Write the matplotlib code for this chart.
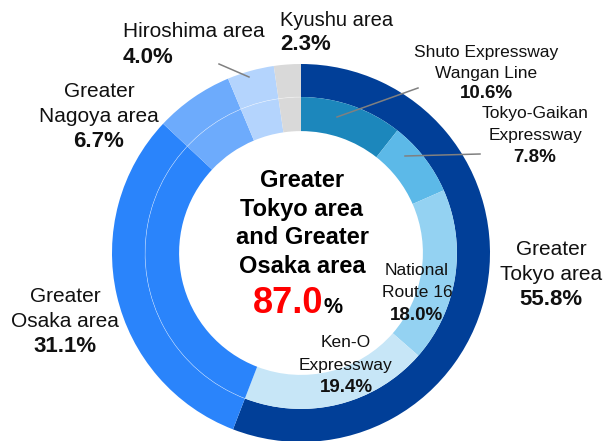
import numpy as np
import matplotlib
matplotlib.use('Agg')
import matplotlib.pyplot as plt
from matplotlib.patches import Arc

plt.rcParams['font.family'] = ['Liberation Sans', 'DejaVu Sans']

# data
area_names = ['Greater\nTokyo area', 'Greater\nOsaka area', 'Greater\nNagoya area', 'Hiroshima area', 'Kyushu area']
area_shares = [55.8, 31.1, 6.7, 4.0, 2.3]
area_colors = ['#013f98', '#2a84fb', '#6dabfc', '#b4d4fd', '#d9d9d9']

route_names = ['Shuto Expressway\nWangan Line', 'Tokyo-Gaikan\nExpressway', 'National\nRoute 16', 'Ken-O\nExpressway']
route_shares = [10.6, 7.8, 18.0, 19.4]
route_colors = ['#1c87bc', '#5cb9e8', '#94d2f2', '#c7e6f7']

center_title = 'Greater\nTokyo area\nand Greater\nOsaka area'
center_share = '87.0'

W, H = 606, 441
fig = plt.figure(figsize=(W / 100, H / 100), dpi=100)
ax = fig.add_axes([0, 0, 1, 1])

# ring geometry in pixels
cx, cy, R = 301, 253, 189

inner_vals = route_shares + area_shares[1:]
inner_cols = route_colors + area_colors[1:]

ax.pie(area_shares, colors=area_colors, radius=1.0, startangle=90, counterclock=False,
       wedgeprops=dict(width=0.175, linewidth=0))
ax.pie(inner_vals, colors=inner_cols, radius=0.825, startangle=90, counterclock=False,
       wedgeprops=dict(width=0.18, linewidth=0))

# faint white line between the rings outside the Tokyo part
tokyo_frac = sum(route_shares) / sum(area_shares)
ax.add_patch(Arc((0, 0), 2 * 0.825, 2 * 0.825, theta1=90, theta2=90 + 360 * (1 - tokyo_frac),
                 color='white', lw=0.4, alpha=0.6))

ax.set_xlim(-cx / R, (W - cx) / R)
ax.set_ylim(-(H - cy) / R, cy / R)
ax.set_aspect('auto')
ax.axis('off')


def px(x, y):
    return x / W, 1 - y / H


def label(x, baselines, name, pct, fs_name, fs_pct, ha='center'):
    lines = name.split('\n')
    for yb, line in zip(baselines[:-1], lines):
        fig.text(*px(x, yb), line, fontsize=fs_name, ha=ha, va='baseline', color='#111111')
    fig.text(*px(x, baselines[-1]), pct, fontsize=fs_pct, ha=ha, va='baseline',
             fontweight='bold', color='#111111')


# outer labels
label(551, [255, 280, 305], area_names[0], f'{area_shares[0]:.1f}%', 15, 16)
label(65, [302, 327, 352], area_names[1], f'{area_shares[1]:.1f}%', 15, 16)
label(99, [97, 122, 147], area_names[2], f'{area_shares[2]:.1f}%', 15, 16)
label(123, [37, 63], area_names[3], f'{area_shares[3]:.1f}%', 15, 16, ha='left')
label(280, [26, 50], area_names[4], f'{area_shares[4]:.1f}%', 14.5, 16, ha='left')

# route labels
label(486, [57, 78, 98], route_names[0], f'{route_shares[0]:.1f}%', 12.5, 13.5)
label(535, [118, 140, 162], route_names[1], f'{route_shares[1]:.1f}%', 12.5, 13.5)
label(417, [275, 297, 320], route_names[2], f'{route_shares[2]:.1f}%', 12.5, 13.5)
label(346, [347, 370, 392], route_names[3], f'{route_shares[3]:.1f}%', 12.5, 13.5)

# leader lines
for (x0, y0), (x1, y1) in [((219, 64), (249, 77)), ((337, 117), (418, 88)), ((405, 156), (480, 154))]:
    fig.add_artist(plt.Line2D([x0 / W, x1 / W], [1 - y0 / H, 1 - y1 / H], color='#808080', lw=1.1))

# center text
for i, line in enumerate(center_title.split('\n')):
    fig.text(*px(302, 187 + i * 28.7), line, fontsize=17, fontweight='bold', ha='center', va='baseline')
fig.text(*px(323, 313), center_share, fontsize=26, fontweight='bold', color='#ff0000', ha='right', va='baseline')
fig.text(*px(324, 313), '%', fontsize=15.5, fontweight='bold', ha='left', va='baseline')

fig.savefig('out.png', dpi=100)
